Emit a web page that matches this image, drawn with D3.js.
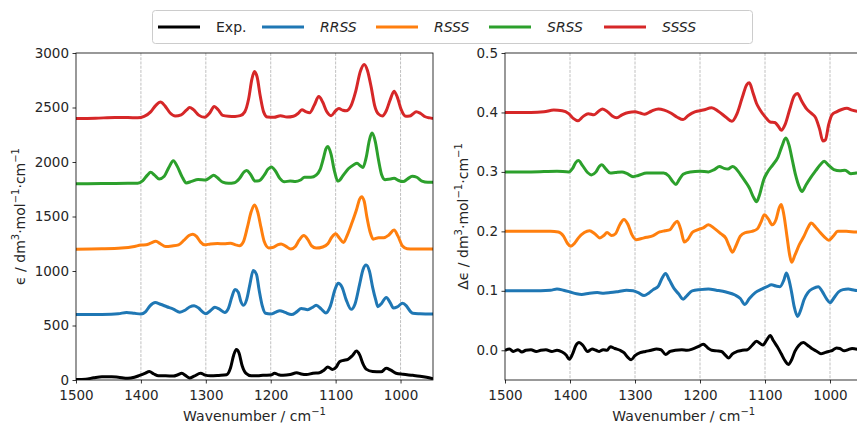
<!DOCTYPE html>
<html>
<head>
<meta charset="utf-8">
<script src="https://cdn.jsdelivr.net/npm/d3@7"></script>
<style>
  html, body { margin: 0; padding: 0; background: #fff; }
  svg { display: block; font-family: "DejaVu Sans", sans-serif; }
</style>
</head>
<body>
<svg id="chart" width="857" height="425"></svg>
<script>
// ---- Series: [wavenumber (cm^-1), value] ----
// IR absorption spectra (epsilon), each isomer offset by 600
const irExp = [[1500,5],[1485,8],[1473,20],[1460,30],[1445,30],[1435,25],[1420,15],[1410,25],[1402,42],[1394,60],[1387,77],[1380,55],[1373,38],[1362,38],[1350,36],[1343,48],[1337,61],[1331,40],[1325,18],[1318,35],[1308,62],[1301,45],[1293,38],[1280,42],[1268,48],[1262,110],[1257,230],[1253,280],[1249,250],[1244,130],[1238,60],[1230,38],[1220,38],[1212,43],[1200,45],[1194,62],[1188,48],[1181,43],[1170,50],[1160,66],[1153,55],[1145,50],[1135,62],[1125,67],[1118,90],[1112,120],[1105,97],[1099,120],[1094,168],[1088,180],[1081,190],[1074,225],[1068,265],[1063,230],[1058,150],[1053,100],[1043,78],[1030,75],[1022,107],[1015,90],[1007,62],[996,52],[981,43],[970,35],[960,25],[950,12]];

const irRRSS = [[1500,600],[1460,602],[1435,608],[1422,620],[1410,612],[1400,605],[1393,625],[1386,680],[1378,710],[1370,695],[1360,672],[1350,650],[1340,622],[1332,640],[1325,670],[1318,682],[1311,660],[1305,625],[1300,608],[1293,635],[1286,667],[1279,650],[1271,620],[1265,660],[1260,760],[1255,830],[1250,805],[1246,720],[1242,685],[1237,740],[1232,880],[1227,1005],[1222,970],[1218,830],[1213,680],[1208,612],[1200,605],[1193,620],[1186,636],[1178,620],[1168,600],[1160,625],[1153,657],[1143,645],[1136,665],[1130,685],[1122,650],[1115,615],[1108,680],[1101,830],[1096,887],[1090,850],[1084,740],[1076,648],[1070,700],[1063,880],[1058,1010],[1053,1055],[1048,1000],[1043,850],[1038,730],[1035,673],[1029,705],[1022,758],[1016,710],[1011,660],[1005,670],[997,703],[991,680],[985,630],[981,612],[970,608],[950,605]];

const irRSSS = [[1500,1200],[1460,1203],[1430,1210],[1410,1225],[1400,1238],[1392,1240],[1385,1255],[1377,1272],[1370,1250],[1362,1225],[1352,1230],[1342,1240],[1334,1280],[1326,1325],[1320,1337],[1314,1315],[1308,1265],[1302,1240],[1293,1248],[1282,1252],[1272,1250],[1262,1255],[1254,1240],[1248,1232],[1242,1270],[1236,1400],[1230,1545],[1225,1605],[1220,1540],[1215,1400],[1210,1270],[1203,1212],[1197,1215],[1190,1238],[1184,1248],[1177,1228],[1169,1202],[1162,1225],[1156,1285],[1149,1325],[1143,1290],[1137,1230],[1130,1210],[1120,1220],[1112,1250],[1106,1310],[1100,1342],[1094,1300],[1088,1262],[1082,1330],[1075,1440],[1068,1560],[1063,1660],[1060,1682],[1056,1640],[1052,1500],[1047,1360],[1042,1292],[1034,1305],[1026,1305],[1018,1330],[1010,1376],[1004,1320],[997,1230],[990,1205],[980,1202],[965,1202],[950,1202]];

const irSRSS = [[1500,1800],[1460,1802],[1420,1805],[1405,1806],[1397,1830],[1390,1880],[1385,1905],[1379,1880],[1372,1845],[1364,1870],[1357,1950],[1350,2012],[1344,1960],[1337,1870],[1330,1808],[1322,1822],[1312,1840],[1300,1836],[1294,1855],[1288,1878],[1282,1855],[1274,1815],[1265,1805],[1256,1810],[1248,1850],[1241,1910],[1237,1922],[1231,1885],[1224,1825],[1218,1828],[1210,1880],[1204,1935],[1199,1955],[1193,1920],[1186,1850],[1179,1818],[1170,1826],[1162,1820],[1154,1835],[1148,1860],[1138,1860],[1130,1880],[1124,1930],[1119,2030],[1115,2120],[1112,2142],[1107,2070],[1102,1920],[1096,1825],[1088,1880],[1080,1940],[1072,1975],[1067,1988],[1062,1965],[1058,1950],[1053,2040],[1048,2200],[1044,2265],[1039,2190],[1034,2020],[1029,1880],[1024,1838],[1016,1845],[1010,1850],[1003,1830],[996,1820],[989,1845],[982,1870],[975,1860],[967,1825],[958,1815],[950,1815]];

const irSSSS = [[1500,2400],[1470,2402],[1440,2408],[1420,2408],[1405,2405],[1395,2418],[1385,2460],[1377,2520],[1370,2550],[1363,2515],[1355,2450],[1347,2422],[1338,2432],[1330,2475],[1325,2500],[1319,2480],[1311,2430],[1302,2410],[1294,2450],[1287,2510],[1281,2480],[1274,2428],[1265,2420],[1255,2418],[1247,2425],[1240,2460],[1234,2580],[1229,2760],[1225,2830],[1221,2780],[1216,2600],[1211,2460],[1205,2412],[1195,2410],[1185,2425],[1175,2412],[1165,2420],[1158,2445],[1152,2480],[1146,2462],[1140,2452],[1133,2520],[1126,2600],[1120,2550],[1114,2465],[1107,2425],[1100,2470],[1095,2490],[1089,2475],[1084,2470],[1076,2520],[1069,2650],[1062,2830],[1056,2895],[1051,2840],[1045,2680],[1040,2520],[1034,2440],[1028,2422],[1022,2470],[1016,2570],[1010,2650],[1005,2595],[999,2480],[992,2420],[986,2422],[981,2440],[976,2462],[969,2445],[962,2415],[955,2405],[950,2400]];

// VCD spectra (delta epsilon), each isomer offset by 0.1
const vcdExp = [[1500,0.000],[1493,0.002],[1487,-0.002],[1480,0.001],[1474,-0.003],[1468,0.000],[1460,0.001],[1452,-0.002],[1445,0.000],[1437,0.001],[1428,-0.002],[1420,0.000],[1412,-0.003],[1406,-0.008],[1401,-0.015],[1396,-0.006],[1391,0.008],[1386,0.013],[1380,0.008],[1373,-0.002],[1366,0.002],[1360,0.000],[1355,-0.002],[1349,0.001],[1343,0.000],[1338,0.006],[1331,0.003],[1323,0.000],[1317,-0.004],[1311,-0.012],[1306,-0.016],[1300,-0.009],[1292,-0.004],[1284,-0.002],[1275,0.000],[1267,0.002],[1260,0.001],[1253,-0.007],[1246,-0.002],[1238,0.000],[1228,0.001],[1220,0.000],[1212,0.002],[1203,0.006],[1195,0.010],[1188,0.004],[1182,0.000],[1174,-0.001],[1167,-0.002],[1161,-0.008],[1156,-0.013],[1150,-0.006],[1143,-0.002],[1135,0.000],[1127,0.001],[1120,0.008],[1113,0.015],[1107,0.011],[1103,0.009],[1097,0.018],[1092,0.025],[1087,0.016],[1081,0.006],[1075,-0.006],[1069,-0.018],[1064,-0.024],[1059,-0.016],[1054,-0.002],[1048,0.008],[1041,0.013],[1035,0.009],[1028,0.003],[1020,-0.002],[1014,-0.006],[1008,-0.004],[1002,-0.002],[996,0.000],[990,0.004],[985,0.003],[978,-0.001],[972,0.001],[966,0.003],[960,0.002],[950,0.001]];

const vcdRRSS = [[1500,0.100],[1460,0.100],[1430,0.101],[1420,0.103],[1410,0.101],[1400,0.098],[1390,0.095],[1382,0.094],[1370,0.096],[1358,0.097],[1348,0.096],[1338,0.097],[1325,0.099],[1313,0.101],[1303,0.100],[1295,0.097],[1286,0.092],[1279,0.096],[1272,0.102],[1264,0.108],[1258,0.122],[1253,0.129],[1247,0.118],[1240,0.104],[1233,0.095],[1226,0.086],[1220,0.092],[1212,0.100],[1200,0.102],[1187,0.103],[1175,0.101],[1160,0.098],[1146,0.093],[1138,0.087],[1131,0.077],[1124,0.087],[1115,0.097],[1105,0.103],[1097,0.107],[1090,0.110],[1083,0.108],[1077,0.107],[1071,0.118],[1067,0.130],[1063,0.118],[1059,0.097],[1055,0.073],[1050,0.057],[1045,0.068],[1040,0.085],[1034,0.097],[1026,0.104],[1018,0.107],[1012,0.099],[1005,0.086],[1000,0.080],[994,0.088],[987,0.098],[980,0.102],[972,0.103],[962,0.101],[950,0.100]];

const vcdRSSS = [[1500,0.200],[1460,0.200],[1430,0.200],[1418,0.199],[1410,0.192],[1404,0.180],[1399,0.175],[1393,0.180],[1387,0.189],[1378,0.198],[1370,0.201],[1362,0.196],[1354,0.189],[1348,0.193],[1343,0.198],[1336,0.193],[1330,0.196],[1323,0.212],[1317,0.220],[1311,0.212],[1305,0.195],[1298,0.186],[1290,0.188],[1282,0.190],[1272,0.193],[1262,0.199],[1254,0.201],[1246,0.203],[1240,0.212],[1235,0.217],[1230,0.205],[1224,0.182],[1219,0.186],[1212,0.198],[1205,0.202],[1195,0.206],[1187,0.211],[1178,0.205],[1168,0.196],[1160,0.188],[1155,0.175],[1150,0.165],[1145,0.175],[1138,0.192],[1130,0.198],[1120,0.200],[1112,0.204],[1106,0.216],[1101,0.228],[1095,0.221],[1089,0.211],[1083,0.220],[1078,0.240],[1075,0.245],[1071,0.228],[1066,0.190],[1062,0.160],[1059,0.148],[1054,0.160],[1047,0.178],[1040,0.192],[1034,0.206],[1029,0.214],[1022,0.207],[1015,0.198],[1008,0.190],[1002,0.185],[995,0.192],[988,0.200],[975,0.200],[960,0.199],[950,0.199]];

const vcdSRSS = [[1500,0.300],[1460,0.300],[1420,0.301],[1402,0.300],[1396,0.306],[1391,0.316],[1387,0.319],[1381,0.311],[1373,0.299],[1367,0.295],[1360,0.300],[1355,0.309],[1351,0.312],[1345,0.305],[1338,0.298],[1330,0.299],[1320,0.300],[1312,0.297],[1303,0.292],[1295,0.294],[1282,0.298],[1270,0.298],[1256,0.298],[1248,0.293],[1242,0.284],[1237,0.279],[1232,0.287],[1226,0.296],[1215,0.300],[1200,0.301],[1187,0.300],[1178,0.304],[1170,0.309],[1163,0.306],[1157,0.305],[1150,0.309],[1145,0.306],[1138,0.296],[1131,0.285],[1124,0.273],[1118,0.258],[1113,0.250],[1108,0.263],[1102,0.287],[1096,0.300],[1088,0.312],[1080,0.325],[1074,0.343],[1068,0.357],[1063,0.345],[1058,0.320],[1053,0.295],[1047,0.274],[1043,0.267],[1037,0.278],[1030,0.290],[1022,0.302],[1015,0.312],[1009,0.318],[1002,0.311],[994,0.304],[985,0.302],[977,0.303],[968,0.297],[960,0.298],[950,0.300]];

const vcdSSSS = [[1500,0.400],[1460,0.400],[1440,0.401],[1425,0.404],[1412,0.403],[1402,0.398],[1395,0.390],[1388,0.386],[1380,0.393],[1372,0.398],[1363,0.396],[1356,0.402],[1350,0.406],[1342,0.401],[1335,0.394],[1328,0.391],[1320,0.396],[1310,0.400],[1300,0.401],[1292,0.399],[1285,0.397],[1275,0.402],[1264,0.406],[1255,0.404],[1245,0.399],[1235,0.392],[1226,0.388],[1218,0.395],[1208,0.401],[1195,0.404],[1182,0.408],[1172,0.402],[1160,0.392],[1151,0.385],[1143,0.398],[1135,0.425],[1128,0.447],[1124,0.450],[1119,0.435],[1113,0.415],[1108,0.405],[1100,0.393],[1092,0.384],[1085,0.383],[1079,0.376],[1075,0.370],[1069,0.380],[1062,0.405],[1055,0.428],[1050,0.432],[1044,0.420],[1036,0.406],[1028,0.398],[1022,0.391],[1016,0.372],[1011,0.352],[1007,0.354],[1002,0.380],[997,0.396],[990,0.401],[982,0.405],[974,0.407],[966,0.404],[958,0.402],[950,0.401]];

// ---- Legend / series names and colours ----
const seriesNames = ["Exp.", "RRSS", "RSSS", "SRSS", "SSSS"];
const seriesColors = ["#000000", "#1f77b4", "#ff7f0e", "#2ca02c", "#d62728"];
const irSeries = [irExp, irRRSS, irRSSS, irSRSS, irSSSS];
const vcdSeries = [vcdExp, vcdRRSS, vcdRSSS, vcdSRSS, vcdSSSS];

// ---- Axes ----
const xTicks = [1500, 1400, 1300, 1200, 1100, 1000];
const gridTicks = [1400, 1300, 1200, 1100, 1000];
const irTicks = [0, 500, 1000, 1500, 2000, 2500, 3000];
const vcdTicks = [0.0, 0.1, 0.2, 0.3, 0.4, 0.5];
const xDomain = [1500, 950];
const irDomain = [0, 3000];
const vcdDomain = [-0.05, 0.5];

const svg = d3.select("#chart");
const plotTop = 53, plotBottom = 380;
const textColor = "#262626";

function drawPanel(opts) {
  const x = d3.scaleLinear().domain(xDomain).range([opts.left, opts.right]);
  const y = d3.scaleLinear().domain(opts.yDomain).range([plotBottom, plotTop]);
  const g = svg.append("g");

  const clipId = "clip-" + opts.id;
  svg.append("defs").append("clipPath").attr("id", clipId)
    .append("rect").attr("x", opts.left).attr("y", plotTop)
    .attr("width", opts.right - opts.left).attr("height", plotBottom - plotTop);

  // vertical dashed grid
  g.append("g").selectAll("line").data(gridTicks).join("line")
    .attr("x1", d => x(d)).attr("x2", d => x(d))
    .attr("y1", plotTop).attr("y2", plotBottom)
    .attr("stroke", "#b0b0b0").attr("stroke-width", 0.8)
    .attr("stroke-dasharray", "2.96,1.28");

  // spectra
  const line = d3.line().x(d => x(d[0])).y(d => y(d[1])).curve(d3.curveMonotoneX);
  g.append("g").attr("clip-path", `url(#${clipId})`)
    .selectAll("path").data(opts.series).join("path")
    .attr("d", line)
    .attr("fill", "none")
    .attr("stroke", (d, i) => seriesColors[i])
    .attr("stroke-width", 3)
    .attr("stroke-linejoin", "round");

  // axes
  const xAxis = d3.axisBottom(x).tickValues(xTicks).tickSize(3.5).tickPadding(7)
    .tickFormat(d3.format("d"));
  const yAxis = d3.axisLeft(y).tickValues(opts.yTicks).tickSize(3.5).tickPadding(3.5)
    .tickFormat(opts.yFormat);

  const gx = g.append("g").attr("transform", `translate(0,${plotBottom})`).call(xAxis);
  const gy = g.append("g").attr("transform", `translate(${opts.left},0)`).call(yAxis);
  [gx, gy].forEach(a => {
    a.select(".domain").remove();
    a.selectAll(".tick line").attr("stroke", "#000").attr("stroke-width", 0.8);
    a.selectAll(".tick text").attr("fill", textColor)
      .style("font-size", "13.5px").style("font-family", "DejaVu Sans, sans-serif");
  });
  gy.selectAll(".tick text").attr("dy", "0.3em");

  // frame
  g.append("rect").attr("x", opts.left).attr("y", plotTop)
    .attr("width", opts.right - opts.left).attr("height", plotBottom - plotTop)
    .attr("fill", "none").attr("stroke", "#000").attr("stroke-width", 0.8);

  // x label
  const xl = g.append("text")
    .attr("x", (opts.left + opts.right) / 2)
    .attr("y", 421).attr("text-anchor", "middle")
    .attr("fill", textColor).style("font-size", "14px");
  xl.append("tspan").text("Wavenumber / cm");
  xl.append("tspan").attr("dy", -6).style("font-size", "10px").text("\u22121");

  // y label
  const yl = g.append("text")
    .attr("transform", `translate(${opts.ylabelX},${(plotTop + plotBottom) / 2}) rotate(-90)`)
    .attr("text-anchor", "middle").attr("fill", textColor).style("font-size", "14px");
  yl.append("tspan").text(opts.ylabelPrefix + " / dm");
  yl.append("tspan").attr("dy", -6).style("font-size", "10px").text("3");
  yl.append("tspan").attr("dy", 6).text("\u00b7mol");
  yl.append("tspan").attr("dy", -6).style("font-size", "10px").text("\u22121");
  yl.append("tspan").attr("dy", 6).text("\u00b7cm");
  yl.append("tspan").attr("dy", -6).style("font-size", "10px").text("\u22121");
}

drawPanel({ id: "ir", left: 76, right: 433, yDomain: irDomain, yTicks: irTicks,
  yFormat: d3.format("d"), series: irSeries, ylabelX: 25, ylabelPrefix: "\u03f5" });
drawPanel({ id: "vcd", left: 505, right: 862.5, yDomain: vcdDomain, yTicks: vcdTicks,
  yFormat: d3.format(".1f"), series: vcdSeries, ylabelX: 468, ylabelPrefix: "\u0394\u03f5" });

// ---- Legend ----
const legend = svg.append("g");
legend.append("rect").attr("x", 152.5).attr("y", 10.5).attr("width", 600).attr("height", 33)
  .attr("rx", 3).attr("fill", "#fff").attr("fill-opacity", 0.8)
  .attr("stroke", "#cccccc").attr("stroke-width", 1);
const legendX = [158, 262, 376, 489, 604];
seriesNames.forEach((name, i) => {
  legend.append("line").attr("x1", legendX[i]).attr("x2", legendX[i] + 42)
    .attr("y1", 27).attr("y2", 27)
    .attr("stroke", seriesColors[i]).attr("stroke-width", 3);
  legend.append("text").attr("x", legendX[i] + 58).attr("y", 32)
    .attr("fill", textColor).style("font-size", "14px")
    .style("font-style", i === 0 ? "normal" : "italic")
    .text(name);
});
</script>
</body>
</html>
